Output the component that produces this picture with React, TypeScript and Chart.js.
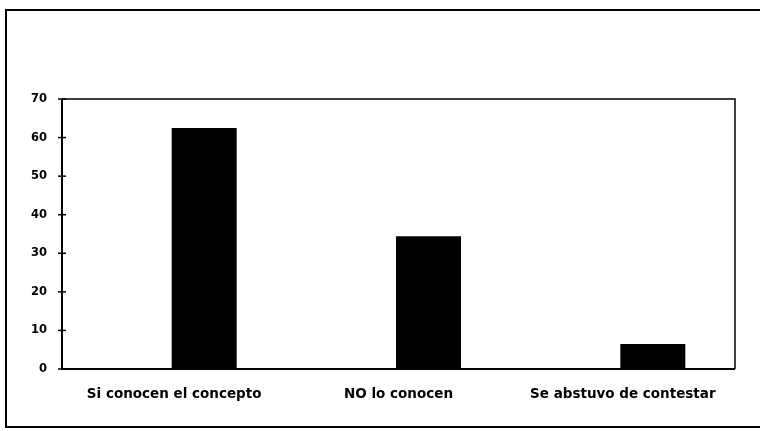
import React, { useEffect, useRef } from "react";
import { Chart, registerables } from "chart.js";

Chart.register(...registerables);

const categories = ["Si conocen el concepto", "NO lo conocen", "Se abstuvo de contestar"];
const values = [62.5, 34.4, 6.5];
const spacer = [null, null, null];
const yTicks = [0, 10, 20, 30, 40, 50, 60, 70];

const framePlugin = {
  id: "frame",
  afterDraw(chart: any) {
    const { ctx, chartArea } = chart;
    const ys = chart.scales.y;
    ctx.save();
    ctx.strokeStyle = "#000";
    // outer frame
    ctx.lineWidth = 2;
    ctx.beginPath();
    ctx.moveTo(762, 10);
    ctx.lineTo(6, 10);
    ctx.lineTo(6, 427);
    ctx.lineTo(762, 427);
    ctx.stroke();
    // plot area border
    ctx.lineWidth = 1.5;
    ctx.beginPath();
    ctx.moveTo(chartArea.left, chartArea.top);
    ctx.lineTo(chartArea.right, chartArea.top);
    ctx.lineTo(chartArea.right, chartArea.bottom);
    ctx.stroke();
    ctx.lineWidth = 2;
    ctx.beginPath();
    ctx.moveTo(chartArea.left, chartArea.top);
    ctx.lineTo(chartArea.left, chartArea.bottom);
    ctx.lineTo(chartArea.right, chartArea.bottom);
    ctx.stroke();
    // y tick marks crossing axis
    ctx.lineWidth = 1.5;
    yTicks.forEach((v) => {
      const y = ys.getPixelForValue(v);
      ctx.beginPath();
      ctx.moveTo(chartArea.left - 4, y);
      ctx.lineTo(chartArea.left + 4, y);
      ctx.stroke();
    });
    ctx.restore();
  },
};

export default function App() {
  const ref = useRef<HTMLCanvasElement>(null);
  useEffect(() => {
    document.body.style.margin = "0";
    const chart = new Chart(ref.current!, {
      type: "bar",
      data: {
        labels: categories,
        datasets: [
          { data: spacer as any, backgroundColor: "#000" },
          { data: values, backgroundColor: "#000", borderWidth: 0 },
        ],
      },
      options: {
        animation: false,
        responsive: false,
        maintainAspectRatio: false,
        layout: { padding: { top: 99, right: 25, left: 0, bottom: 0 } },
        datasets: { bar: { categoryPercentage: 0.535, barPercentage: 1.083 } } as any,
        plugins: { legend: { display: false }, tooltip: { enabled: false } },
        scales: {
          x: {
            grid: { display: false, drawTicks: false },
            border: { display: false },
            ticks: {
              color: "#000",
              font: { family: "DejaVu Sans", weight: "bold", size: 13.5 },
              padding: 17,
              maxRotation: 0,
              autoSkip: false,
            },
            afterFit(scale: any) {
              scale.height = 62;
            },
          },
          y: {
            min: 0,
            max: 70,
            grid: { display: false, drawTicks: false },
            border: { display: false },
            ticks: {
              stepSize: 10,
              color: "#000",
              font: { family: "DejaVu Sans", weight: "bold", size: 11.5 },
              padding: 15,
            },
            afterFit(scale: any) {
              scale.width = 62;
            },
          },
        },
      },
      plugins: [framePlugin],
    });
    return () => chart.destroy();
  }, []);
  return <canvas ref={ref} width={760} height={431} style={{ display: "block" }} />;
}
